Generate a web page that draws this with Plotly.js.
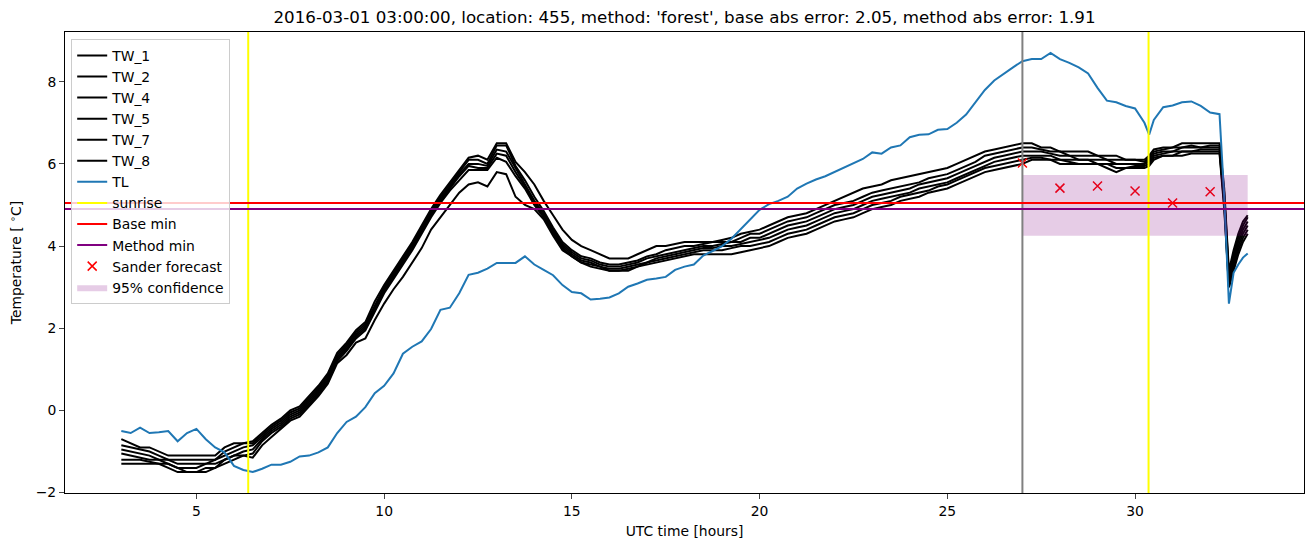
<!DOCTYPE html>
<html><head><meta charset="utf-8">
<script src="https://cdn.plot.ly/plotly-3.0.1.min.js"></script>
<style>body{margin:0;padding:0;background:#fff}#chart{width:1313px;height:547px}</style>
</head><body><div id="chart"></div>
<script>
const time = [3,3.25,3.5,3.75,4,4.25,4.5,4.75,5,5.25,5.5,5.75,6,6.25,6.5,
  6.75,7,7.25,7.5,7.75,8,8.25,8.5,8.75,
  9,9.25,9.5,9.75,10,10.25,10.5,10.75,
  11,11.25,11.5,11.75,12,12.25,12.5,12.75,
  13,13.25,13.5,13.75,14,14.25,14.5,14.75,
  15,15.25,15.5,15.75,16,16.25,16.5,16.75,
  17,17.25,17.5,17.75,18,18.25,18.5,18.75,
  19,19.25,19.5,19.75,20,20.25,20.5,20.75,
  21,21.25,21.5,21.75,22,22.25,22.5,22.75,
  23,23.25,23.5,23.75,24,24.25,24.5,24.75,
  25,25.25,25.5,25.75,26,26.25,26.5,26.75,
  27,27.25,27.5,27.75,28,28.25,28.5,28.75,
  29,29.25,29.5,29.75,30,30.25,
  30.375,
  30.5,30.75,31,31.25,31.5,31.75,32,32.25,
  32.375,32.5,32.625,32.75,32.875,33];

const TL = [-0.50,-0.55,-0.42,-0.55,-0.53,-0.50,-0.75,-0.55,-0.45,-0.70,-0.90,-1.02,-1.35,-1.45,-1.50,
  -1.42,-1.32,-1.32,-1.25,-1.12,-1.10,-1.02,-0.90,-0.55,
  -0.28,-0.15,0.08,0.42,0.60,0.90,1.38,1.55,
  1.68,1.98,2.45,2.50,2.85,3.30,3.35,3.45,
  3.59,3.59,3.59,3.75,3.55,3.42,3.29,3.05,
  2.88,2.85,2.70,2.72,2.75,2.85,3.01,3.09,
  3.18,3.21,3.25,3.42,3.50,3.55,3.77,3.88,
  4.00,4.18,4.42,4.65,4.88,5.02,5.10,5.20,
  5.40,5.52,5.62,5.70,5.80,5.90,6.00,6.12,
  6.28,6.25,6.40,6.45,6.65,6.71,6.72,6.83,
  6.85,7.00,7.20,7.50,7.80,8.03,8.20,8.35,
  8.50,8.55,8.55,8.70,8.55,8.46,8.35,8.20,
  7.85,7.54,7.50,7.41,7.35,7.00,
  6.71,
  7.07,7.38,7.42,7.50,7.52,7.41,7.25,7.21,
  5.20,2.60,3.35,3.55,3.72,3.82];

const TW_1 = [-0.7,-0.8,-0.9,-0.9,-1.0,-1.1,-1.1,-1.1,-1.1,-1.1,-1.1,-0.9,-0.8,-0.8,-0.75,
  -0.55,-0.35,-0.2,0.0,0.1,0.35,0.6,0.9,1.4,
  1.65,1.95,2.15,2.65,3.05,3.4,3.75,4.1,
  4.5,4.9,5.25,5.55,5.85,6.15,6.2,6.1,
  6.5,6.5,6.05,5.8,5.5,5.1,4.75,4.4,
  4.15,4.0,3.9,3.8,3.7,3.7,3.7,3.8,
  3.9,4.0,4.0,4.05,4.1,4.1,4.1,4.1,
  4.15,4.2,4.3,4.35,4.4,4.5,4.6,4.7,
  4.75,4.8,4.9,5.0,5.1,5.2,5.3,5.4,
  5.45,5.5,5.6,5.65,5.7,5.75,5.8,5.85,
  5.9,6.0,6.1,6.2,6.3,6.35,6.4,6.45,
  6.5,6.5,6.4,6.4,6.3,6.3,6.3,6.3,
  6.2,6.2,6.2,6.1,6.1,6.1,
  6.2,
  6.35,6.4,6.4,6.5,6.5,6.5,6.5,6.5,
  5.4,3.4,3.9,4.3,4.6,4.75];

const TW_2 = [-0.85,-0.9,-0.95,-1.0,-1.1,-1.2,-1.2,-1.2,-1.2,-1.2,-1.2,-1.0,-0.9,-0.8,-0.8,
  -0.6,-0.4,-0.25,-0.05,0.05,0.3,0.55,0.85,1.35,
  1.6,1.9,2.1,2.55,3.0,3.35,3.7,4.05,
  4.45,4.85,5.2,5.5,5.8,6.1,6.1,6.0,
  6.45,6.45,5.95,5.6,5.2,4.85,4.45,4.1,
  3.9,3.75,3.7,3.6,3.55,3.55,3.6,3.65,
  3.75,3.8,3.9,3.95,4.0,4.0,4.05,4.1,
  4.1,4.1,4.2,4.3,4.3,4.4,4.5,4.6,
  4.65,4.7,4.8,4.9,5.0,5.05,5.1,5.2,
  5.3,5.35,5.4,5.45,5.5,5.55,5.65,5.7,
  5.75,5.85,5.95,6.05,6.2,6.25,6.3,6.35,
  6.4,6.4,6.35,6.3,6.3,6.2,6.2,6.2,
  6.2,6.1,6.1,6.1,6.1,6.05,
  6.15,
  6.3,6.35,6.4,6.4,6.45,6.4,6.45,6.45,
  5.3,3.3,3.8,4.2,4.5,4.7];

const TW_4 = [-0.95,-1.0,-1.05,-1.1,-1.2,-1.2,-1.3,-1.3,-1.3,-1.3,-1.2,-1.1,-1.0,-0.9,-0.85,
  -0.65,-0.45,-0.3,-0.1,0.0,0.25,0.5,0.8,1.3,
  1.55,1.85,2.05,2.5,2.95,3.3,3.65,4.0,
  4.4,4.8,5.15,5.45,5.75,6.0,6.0,5.95,
  6.35,6.3,5.9,5.5,5.1,4.8,4.4,4.05,
  3.85,3.7,3.65,3.55,3.5,3.5,3.55,3.6,
  3.7,3.75,3.8,3.85,3.9,3.95,4.0,4.0,
  4.05,4.1,4.1,4.2,4.2,4.3,4.4,4.5,
  4.55,4.6,4.7,4.8,4.9,4.95,5.0,5.1,
  5.2,5.25,5.3,5.35,5.4,5.5,5.55,5.6,
  5.65,5.75,5.85,5.95,6.05,6.15,6.2,6.25,
  6.3,6.3,6.3,6.25,6.2,6.2,6.1,6.1,
  6.1,6.1,6.0,6.0,6.0,6.0,
  6.1,
  6.25,6.3,6.3,6.4,6.4,6.4,6.4,6.4,
  5.2,3.2,3.7,4.1,4.4,4.6];

const TW_5 = [-1.05,-1.1,-1.15,-1.2,-1.2,-1.3,-1.4,-1.4,-1.4,-1.3,-1.3,-1.2,-1.1,-1.0,-0.95,
  -0.7,-0.5,-0.35,-0.15,-0.05,0.2,0.45,0.75,1.25,
  1.5,1.8,2.0,2.45,2.9,3.25,3.6,3.95,
  4.35,4.75,5.1,5.4,5.7,5.95,5.9,5.9,
  6.25,6.2,5.8,5.45,5.05,4.75,4.35,4.0,
  3.8,3.65,3.6,3.5,3.45,3.45,3.5,3.55,
  3.6,3.7,3.75,3.8,3.85,3.9,3.95,3.95,
  4.0,4.0,4.05,4.1,4.15,4.2,4.3,4.4,
  4.45,4.5,4.6,4.7,4.8,4.85,4.9,5.0,
  5.1,5.15,5.2,5.25,5.3,5.4,5.45,5.5,
  5.55,5.65,5.75,5.85,5.95,6.05,6.1,6.15,
  6.2,6.2,6.2,6.2,6.1,6.1,6.1,6.1,
  6.0,6.0,6.0,6.0,6.0,6.0,
  6.05,
  6.2,6.25,6.3,6.3,6.3,6.35,6.35,6.35,
  5.1,3.1,3.6,4.0,4.3,4.5];

const TW_7 = [-1.2,-1.2,-1.2,-1.25,-1.3,-1.3,-1.4,-1.5,-1.5,-1.4,-1.4,-1.2,-1.1,-1.1,-1.05,
  -0.75,-0.55,-0.4,-0.2,-0.1,0.15,0.4,0.7,1.2,
  1.45,1.75,1.95,2.4,2.85,3.2,3.55,3.9,
  4.3,4.7,5.05,5.35,5.6,5.85,5.85,5.85,
  6.15,6.05,5.7,5.4,5.0,4.7,4.3,3.95,
  3.75,3.6,3.55,3.5,3.4,3.4,3.45,3.5,
  3.6,3.65,3.7,3.75,3.8,3.85,3.9,3.9,
  3.9,3.95,4.0,4.0,4.05,4.1,4.2,4.3,
  4.35,4.4,4.5,4.6,4.7,4.75,4.8,4.9,
  5.0,5.05,5.1,5.2,5.25,5.3,5.35,5.45,
  5.5,5.6,5.7,5.8,5.9,5.95,6.0,6.05,
  6.1,6.15,6.15,6.1,6.1,6.05,6.0,6.0,
  6.0,6.0,5.9,5.9,5.95,5.95,
  6.0,
  6.15,6.2,6.2,6.3,6.3,6.3,6.3,6.3,
  5.0,3.0,3.5,3.9,4.2,4.4];

const TW_8 = [-1.3,-1.3,-1.3,-1.3,-1.3,-1.4,-1.5,-1.5,-1.5,-1.5,-1.4,-1.3,-1.2,-1.1,-1.15,
  -0.85,-0.65,-0.45,-0.25,-0.15,0.1,0.35,0.65,1.15,
  1.35,1.65,1.75,2.2,2.6,2.95,3.25,3.6,
  3.95,4.4,4.7,5.0,5.3,5.5,5.55,5.45,
  5.8,5.75,5.2,5.0,4.9,4.65,4.25,3.9,
  3.75,3.6,3.5,3.45,3.4,3.4,3.4,3.5,
  3.55,3.6,3.65,3.7,3.75,3.8,3.8,3.8,
  3.8,3.8,3.85,3.9,3.95,4.0,4.1,4.2,
  4.25,4.3,4.4,4.5,4.6,4.65,4.7,4.8,
  4.9,4.95,5.0,5.1,5.15,5.2,5.3,5.35,
  5.4,5.5,5.6,5.7,5.8,5.85,5.9,5.95,
  6.0,6.1,6.1,6.1,6.0,6.0,6.0,6.0,
  6.0,5.9,5.8,5.9,5.9,5.9,
  5.95,
  6.1,6.2,6.2,6.2,6.25,6.25,6.25,6.25,
  4.9,3.0,3.4,3.8,4.1,4.3];

const twNames = ['TW_1','TW_2','TW_4','TW_5','TW_7','TW_8'];
const twSeries = [TW_1, TW_2, TW_4, TW_5, TW_7, TW_8];

const sunriseHours = [6.38, 30.36];
const forecastStart = 27;
const baseMin = 5.05;
const methodMin = 4.90;
const forecastHours = [27, 28, 29, 30, 31, 32];
const forecastValues = [6.02, 5.41, 5.46, 5.34, 5.05, 5.32];
const confStart = 27, confEnd = 33;
const confLow = 4.25, confHigh = 5.73;

const FONT = 'DejaVu Sans, sans-serif';
const traces = [];
twSeries.forEach((s, i) => traces.push({
  x: time, y: s, type: 'scatter', mode: 'lines', name: twNames[i],
  line: {color: 'black', width: 2}
}));
traces.push({x: time, y: TL, type: 'scatter', mode: 'lines', name: 'TL',
  line: {color: '#1f77b4', width: 2}});
traces.push({x: [null], y: [null], type: 'scatter', mode: 'lines', name: 'sunrise',
  line: {color: '#ffff00', width: 2}});
traces.push({x: [null], y: [null], type: 'scatter', mode: 'lines', name: 'Base min',
  line: {color: '#ff0000', width: 2}});
traces.push({x: [null], y: [null], type: 'scatter', mode: 'lines', name: 'Method min',
  line: {color: '#800080', width: 2}});
traces.push({x: forecastHours, y: forecastValues, type: 'scatter', mode: 'markers',
  name: 'Sander forecast',
  marker: {symbol: 'x-thin-open', size: 9, color: '#ff0000', line: {color: '#ff0000', width: 1.5}}});
traces.push({x: [confStart, confEnd, confEnd, confStart], y: [confLow, confLow, confHigh, confHigh],
  type: 'scatter', mode: 'lines', fill: 'toself', fillcolor: 'rgba(128,0,128,0.2)',
  line: {width: 0, color: 'rgba(128,0,128,0)'}, name: '95% confidence'});

const shapes = [];
sunriseHours.forEach(h => shapes.push({type: 'line', xref: 'x', yref: 'paper', x0: h, x1: h, y0: 0, y1: 1,
  line: {color: '#ffff00', width: 2}}));
shapes.push({type: 'line', xref: 'x', yref: 'paper', x0: forecastStart, x1: forecastStart, y0: 0, y1: 1,
  line: {color: '#808080', width: 2}});
shapes.push({type: 'line', xref: 'paper', yref: 'y', x0: 0, x1: 1, y0: baseMin, y1: baseMin,
  line: {color: '#ff0000', width: 2}});
shapes.push({type: 'line', xref: 'paper', yref: 'y', x0: 0, x1: 1, y0: methodMin, y1: methodMin,
  line: {color: '#800080', width: 2}});

const layout = {
  width: 1313, height: 547,
  margin: {l: 65, r: 9, t: 32, b: 54},
  paper_bgcolor: '#fff', plot_bgcolor: '#fff',
  font: {family: FONT, size: 13.9, color: '#000'},
  title: {text: "2016-03-01 03:00:00, location: 455, method: 'forest', base abs error: 2.05, method abs error: 1.91",
    font: {family: FONT, size: 16.7, color: '#000'}, xref: 'paper', x: 0.5, xanchor: 'center',
    yref: 'container', y: 1 - 17/547, yanchor: 'middle'},
  xaxis: {range: [1.5, 34.5], tickvals: [5, 10, 15, 20, 25, 30], ticks: 'outside', ticklen: 5, tickwidth: 1,
    showline: true, mirror: true, linecolor: '#000', linewidth: 1, showgrid: false, zeroline: false,
    tickfont: {size: 13.9}, title: {text: 'UTC time [hours]', font: {size: 13.9}, standoff: 8}},
  yaxis: {range: [-2.01, 9.21], tickvals: [-2, 0, 2, 4, 6, 8], ticks: 'outside', ticklen: 5, tickwidth: 1,
    showline: true, mirror: true, linecolor: '#000', linewidth: 1, showgrid: false, zeroline: false,
    tickfont: {size: 13.9}, title: {text: 'Temperature [ <sup>∘</sup>C]', font: {size: 13.9}, standoff: 10}},
  showlegend: true,
  legend: {x: 0.005, y: 0.985, xanchor: 'left', yanchor: 'top', bgcolor: 'rgba(255,255,255,0.8)',
    bordercolor: '#cccccc', borderwidth: 1, font: {size: 13.9}, itemwidth: 30,
    traceorder: 'normal'},
  shapes: shapes
};
Plotly.newPlot('chart', traces, layout, {displayModeBar: false, staticPlot: true});
</script></body></html>
